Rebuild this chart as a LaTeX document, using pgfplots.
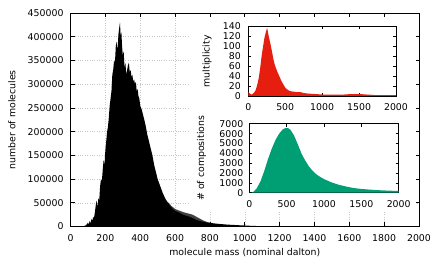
\documentclass[border=0pt]{standalone}
\usepackage{fontspec}
\setmainfont{DejaVu Sans}
\usepackage{pgfplots}
\pgfplotsset{compat=1.18}
\definecolor{gpred}{HTML}{E51E10}
\definecolor{gpgreen}{HTML}{009E73}
\newcommand{\gpfont}{\fontsize{9.4}{11}\selectfont}
\pgfplotsset{
  gp/.style={
    scale only axis,
    font=\gpfont,
    /pgf/number format/assume math mode=true,
    /pgf/number format/fixed,
    /pgf/number format/precision=0,
    /pgf/number format/1000 sep={},
    scaled ticks=false,
    tick align=inside,
    axis line style={black, line width=0.7pt},
    tick style={black, line width=0.6pt},
    ticklabel style={font=\gpfont},
    label style={font=\gpfont},
    xticklabel style={yshift=-4.5bp},
    yticklabel style={xshift=-3.5bp},
  }
}
\pgfplotstableread{
x y
0 0
60 0
70 500
80 1000
90 3000
100 8000
105 4000
110 12000
115 6000
120 16000
125 12000
130 20000
135 18000
140 30000
145 45000
150 55000
155 40000
160 60000
165 55000
170 85000
175 100000
180 95000
185 120000
190 140000
195 130000
200 160000
205 180000
210 200000
215 210000
220 230000
225 255000
230 270000
235 285000
240 320000
245 330000
250 350000
255 345000
260 380000
265 390000
270 370000
275 405000
280 420000
284 430000
288 400000
292 410000
296 380000
300 360000
305 370000
310 335000
315 345000
320 320000
325 330000
330 340000
335 345000
340 325000
345 330000
350 315000
355 320000
360 305000
365 310000
370 300000
375 305000
380 285000
385 290000
390 275000
395 270000
400 255000
405 250000
410 245000
420 230000
430 215000
440 195000
450 180000
460 165000
470 150000
480 130000
490 115000
500 100000
510 90000
520 80000
530 70000
540 62000
550 55000
560 50000
570 44000
580 40000
590 36000
600 33000
620 30000
640 26000
660 23000
680 21000
700 18000
720 14000
740 12000
760 10000
780 8500
800 7500
850 5500
900 4000
950 3000
1000 2000
1050 1200
1100 700
1150 400
1200 200
1300 50
1400 0
2000 0
}\mainblack
\pgfplotstableread{
x y
560 51000
580 43000
600 37000
620 34000
650 30000
680 27000
700 25000
720 21000
740 17000
760 13000
780 10000
800 8000
820 6500
}\maingray
\pgfplotstableread{
x y
0 8
20 5
40 3
60 4
80 7
100 12
120 22
140 35
160 55
180 80
200 100
220 118
240 130
255 137
262 132
270 125
280 118
300 105
320 90
340 74
360 62
380 54
400 46
420 40
440 33
460 27
480 22
500 17
520 14
540 12
560 10
600 9
650 8
700 8
750 6
800 5
900 4
1000 3
1100 3
1200 3
1300 3
1400 4
1500 4
1600 3
1700 2
1800 2
1900 2
2000 2
}\multdata
\pgfplotstableread{
x y
0 0
30 20
60 120
100 450
150 1150
200 2200
250 3400
300 4450
350 5350
400 6000
450 6450
480 6550
520 6550
550 6400
600 5800
650 4900
700 3950
750 3250
800 2650
850 2200
900 1850
950 1600
1000 1380
1100 1050
1200 800
1300 620
1400 470
1500 380
1600 320
1700 270
1800 230
1900 200
2000 170
}\compdata
\begin{document}
\begin{tikzpicture}
\path[use as bounding box] (-70.5bp,-35.5bp) rectangle (365.5bp,226.5bp);
% main axis
\begin{axis}[gp,
  at={(0,0)}, anchor=south west,
  width=348.5bp, height=213.5bp,
  xmin=0, xmax=2000, ymin=0, ymax=450000,
  xtick={0,200,...,2000}, ytick={0,50000,...,450000},
  grid=major, grid style={dotted, gray!45, line width=0.5pt},
  xlabel={molecule mass (nominal dalton)},
  ylabel={number of molecules},
  xlabel style={at={(axis description cs:0.5,-0.124)}, anchor=center},
  ylabel style={at={(axis description cs:-0.168,0.5)}, anchor=center},
]
\addplot[fill=black!75, draw=none] table[x=x,y=y] {\maingray} \closedcycle;
\addplot[fill=black, draw=none] table[x=x,y=y] {\mainblack} \closedcycle;
\end{axis}
\fill[white] (118bp,15bp) rectangle (346.5bp,212.5bp);
% overlay frame and ticks
\begin{axis}[gp,
  at={(0,0)}, anchor=south west,
  width=348.5bp, height=213.5bp,
  xmin=0, xmax=2000, ymin=0, ymax=450000,
  xtick={0,200,...,2000}, ytick={0,50000,...,450000},
  xticklabels={}, yticklabels={},
  major tick length=3.5bp,
]
\end{axis}
% inset 1
\begin{axis}[gp,
  at={(177.8bp,130.5bp)}, anchor=south west,
  width=147.7bp, height=69.5bp,
  xmin=0, xmax=2000, ymin=0, ymax=140,
  xtick={0,500,...,2000}, ytick={0,20,...,140},
  major tick length=3bp,
  ylabel={multiplicity},
  ylabel style={at={(axis description cs:-0.28,0.5)}, anchor=center},
  yticklabel style={xshift=-0.5bp},
]
\addplot[fill=gpred, draw=none] table[x=x,y=y] {\multdata} \closedcycle;
\end{axis}
% inset 2
\begin{axis}[gp,
  at={(178.8bp,33.8bp)}, anchor=south west,
  width=149.4bp, height=68.9bp,
  xmin=0, xmax=2000, ymin=0, ymax=7000,
  xtick={0,500,...,2000}, ytick={0,1000,...,7000},
  major tick length=3bp,
  ylabel={\# of compositions},
  ylabel style={at={(axis description cs:-0.32,0.5)}, anchor=center},
  yticklabel style={xshift=1bp},
]
\addplot[fill=gpgreen, draw=none] table[x=x,y=y] {\compdata} \closedcycle;
\end{axis}
\end{tikzpicture}
\end{document}
